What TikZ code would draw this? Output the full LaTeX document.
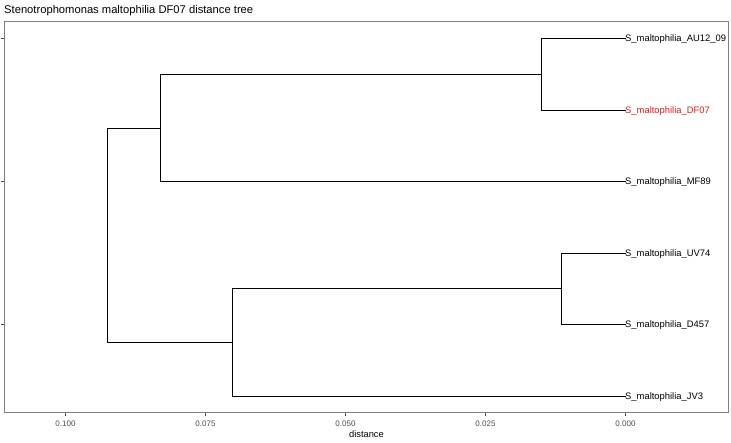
\documentclass[tikz,border=0pt]{standalone}
\usepackage{fontspec}
\setmainfont{Liberation Sans}
\usetikzlibrary{positioning}
\definecolor{tipRed}{HTML}{DD1C1C}
\definecolor{axGray}{HTML}{4D4D4D}

\begin{document}
\begin{tikzpicture}[x=1pt, y=-1pt,
    branch/.style={line width=1.7pt, black, line cap=rect},
    tiplab/.style={anchor=base west, inner sep=0pt, yshift=-3.3pt,
                   font=\fontsize{9.4}{11}\selectfont},
    ticklab/.style={font=\fontsize{8}{9}\selectfont, text=axGray, inner sep=0pt},
    frame/.style={draw=black!50, line width=1pt},
  ]
    \useasboundingbox (0,0) rectangle (731,442);

    % title
    \node[anchor=base west, inner sep=0pt, font=\fontsize{11.2}{13}\selectfont]
      (title) at (4,13.4) {Stenotrophomonas maltophilia DF07 distance tree};

    % panel
    \draw[frame] (4.5,21.5) rectangle (728.5,412.5);
    \foreach \y in {38.5,181.5,324.5}
      \draw[frame, draw=axGray] (1,\y) -- (4,\y);
    \foreach \i/\lab in {0/0.000, 1/0.025, 2/0.050, 3/0.075, 4/0.100} {
      \draw[frame, draw=axGray] ({625.5-140*\i},413) -- ++(0,3);
      \node[ticklab] at ({625.5-140*\i},423.5) {\lab};
    }
    \node[font=\fontsize{9.3}{11}\selectfont, inner sep=0pt] (xlab) at (366.5,434) {distance};

    % tips
    \coordinate (t1) at (625, 38.5);
    \coordinate (t2) at (625,110.5);
    \coordinate (t3) at (625,181.5);
    \coordinate (t4) at (625,253.5);
    \coordinate (t5) at (625,324.5);
    \coordinate (t6) at (625,396.5);

    % inner nodes
    \coordinate (n1)   at (541.5, 74.5);
    \coordinate (n2)   at (160.5,128.5);
    \coordinate (n3)   at (561.5,288.5);
    \coordinate (n4)   at (232.5,342.5);
    \coordinate (root) at (107.5,235.5);

    % branches
    \draw[branch] (n1) |- (t1);
    \draw[branch] (n1) |- (t2);
    \draw[branch] (n2) |- (n1);
    \draw[branch] (n2) |- (t3);
    \draw[branch] (n3) |- (t4);
    \draw[branch] (n3) |- (t5);
    \draw[branch] (n4) |- (n3);
    \draw[branch] (n4) |- (t6);
    \draw[branch] (root) |- (n2);
    \draw[branch] (root) |- (n4);

    % tip labels
    \node[tiplab] (au12) at (t1) {S\_maltophilia\_AU12\_09};
    \node[tiplab, text=tipRed] (df07) at (t2) {S\_maltophilia\_DF07};
    \node[tiplab] (mf89) at (t3) {S\_maltophilia\_MF89};
    \node[tiplab] (uv74) at (t4) {S\_maltophilia\_UV74};
    \node[tiplab] (d457) at (t5) {S\_maltophilia\_D457};
    \node[tiplab] (jv3)  at (t6) {S\_maltophilia\_JV3};
\end{tikzpicture}
\end{document}
